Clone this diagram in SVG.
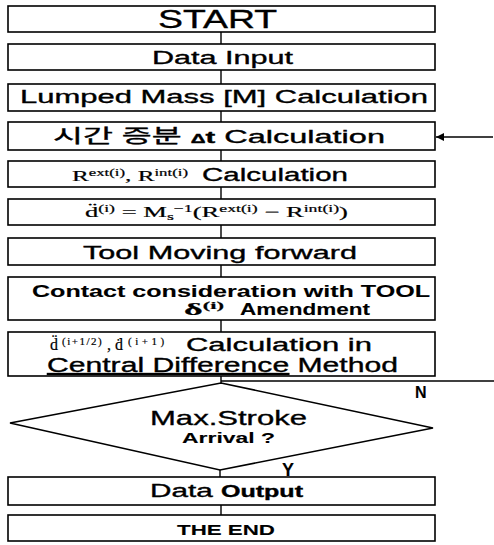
<svg xmlns="http://www.w3.org/2000/svg" width="494" height="545" viewBox="0 0 494 545">
<defs>
<style>
.box{fill:#fff;stroke:#000;stroke-width:1.6}
.ln{fill:none;stroke:#000;stroke-width:1.4}
.t{font-family:"Liberation Sans",Arial,sans-serif;fill:#000;stroke:#000;stroke-width:0.35}
.b{font-weight:bold;stroke-width:0.1}
.s{font-family:"Liberation Serif","Times New Roman",serif;fill:#000;stroke:#000;stroke-width:0.2}
.k{font-family:"Liberation Sans","Noto Sans CJK KR",sans-serif;fill:#000;stroke:#000;stroke-width:0.35}
</style>
<marker id="ah" viewBox="0 0 10 10" refX="10" refY="5" markerWidth="10" markerHeight="8" markerUnits="userSpaceOnUse" orient="auto">
<path d="M0,0 L10,5 L0,10 z" fill="#000"/>
</marker>
</defs>
<rect width="494" height="545" fill="#fff"/>
<g id="connectors">
<line class="ln" x1="221" y1="32" x2="221" y2="44"/>
<line class="ln" x1="221" y1="70" x2="221" y2="84"/>
<line class="ln" x1="221" y1="111" x2="221" y2="122"/>
<line class="ln" x1="221" y1="150" x2="221" y2="161"/>
<line class="ln" x1="221" y1="187" x2="221" y2="199"/>
<line class="ln" x1="221" y1="225" x2="221" y2="238"/>
<line class="ln" x1="221" y1="265" x2="221" y2="277"/>
<line class="ln" x1="221" y1="320" x2="221" y2="332"/>
<line class="ln" x1="221" y1="376" x2="221" y2="383"/>
<line class="ln" x1="221" y1="381" x2="494" y2="381"/>
<line class="ln" x1="220" y1="470" x2="220" y2="477"/>
<line class="ln" x1="221" y1="505" x2="221" y2="515"/>
<line class="ln" x1="493" y1="137" x2="436" y2="137" marker-end="url(#ah)" stroke-width="1"/>
<text class="t b" x="415" y="398" font-size="16">N</text>
<text class="t b" x="282" y="476" font-size="18">Y</text>
</g>
<g id="start"><rect class="box" x="8" y="6" width="427" height="26"/>
<text class="t" x="158" y="28" font-size="25" textLength="119" lengthAdjust="spacingAndGlyphs">START</text></g>
<g id="data-input"><rect class="box" x="8" y="44" width="427" height="26"/>
<text class="t" x="152" y="64" font-size="19" textLength="141" lengthAdjust="spacingAndGlyphs">Data  Input</text></g>
<g id="lumped-mass"><rect class="box" x="8" y="84" width="427" height="27"/>
<text class="t" x="20" y="103" font-size="19" textLength="408" lengthAdjust="spacingAndGlyphs">Lumped Mass [M] Calculation</text></g>
<g id="time-step"><rect class="box" x="8" y="122" width="427" height="28"/>
<text class="k" x="53" y="143" font-size="19" textLength="332" lengthAdjust="spacingAndGlyphs">시간 증분 <tspan font-size="12" font-weight="bold">Δ</tspan><tspan font-weight="bold" font-size="17">t</tspan> Calculation</text></g>
<g id="r-calc"><rect class="box" x="8" y="161" width="427" height="26"/>
<text class="s" x="72" y="181" font-size="15" textLength="116" lengthAdjust="spacingAndGlyphs">R<tspan font-size="10" dy="-5">ext(i)</tspan><tspan dy="5">, R</tspan><tspan font-size="10" dy="-5">int(i)</tspan></text>
<text class="t" x="202" y="181" font-size="19" textLength="146" lengthAdjust="spacingAndGlyphs">Calculation</text></g>
<g id="accel"><rect class="box" x="8" y="199" width="427" height="26"/>
<text class="s" x="85" y="217" font-size="15" textLength="263" lengthAdjust="spacingAndGlyphs">d̈<tspan font-size="10" dy="-5">(i)</tspan><tspan dy="5"> = M</tspan><tspan font-size="10" dy="3">s</tspan><tspan font-size="10" dy="-8">−1</tspan><tspan dy="5">(R</tspan><tspan font-size="10" dy="-5">ext(i)</tspan><tspan dy="5"> − R</tspan><tspan font-size="10" dy="-5">int(i)</tspan><tspan dy="5">)</tspan></text></g>
<g id="tool-moving"><rect class="box" x="8" y="238" width="427" height="27"/>
<text class="t" x="83" y="259" font-size="19" textLength="274" lengthAdjust="spacingAndGlyphs">Tool Moving forward</text></g>
<g id="contact"><rect class="box" x="8" y="277" width="427" height="43"/>
<text class="t b" x="32" y="297" font-size="16" textLength="398" lengthAdjust="spacingAndGlyphs">Contact consideration with TOOL</text>
<text class="s" x="184" y="315" font-size="16" font-weight="bold" textLength="40" lengthAdjust="spacingAndGlyphs">δ<tspan font-size="10" dy="-6">(i)</tspan></text>
<text class="t b" x="240" y="315" font-size="16" textLength="130" lengthAdjust="spacingAndGlyphs">Amendment</text></g>
<g id="central-diff"><rect class="box" x="8" y="332" width="427" height="44"/>
<text class="s" y="350" font-size="16"><tspan x="50">d̈</tspan><tspan x="62" dy="-5" font-size="11" letter-spacing="1.5">(i+1/2)</tspan><tspan x="107" dy="5">, ḋ</tspan><tspan x="128" dy="-5" font-size="11" letter-spacing="3.5">(i+1)</tspan></text>
<text class="t" x="186" y="351" font-size="19" textLength="186" lengthAdjust="spacingAndGlyphs">Calculation  in</text>
<text class="t" x="47" y="372" font-size="20" textLength="351" lengthAdjust="spacingAndGlyphs"><tspan text-decoration="underline">Central Difference</tspan> Method</text></g>
<g id="max-stroke"><polygon class="box" points="221,383 433,428 220,470 10,423"/>
<text class="t" x="150" y="425" font-size="21" textLength="157" lengthAdjust="spacingAndGlyphs">Max.Stroke</text>
<text class="t b" x="182" y="443" font-size="14" textLength="93" lengthAdjust="spacingAndGlyphs">Arrival ?</text></g>
<g id="data-output"><rect class="box" x="8" y="477" width="427" height="28"/>
<text class="t" x="150" y="497" font-size="19" textLength="153" lengthAdjust="spacingAndGlyphs">Data <tspan font-weight="bold" font-size="16">Output</tspan></text></g>
<g id="the-end"><rect class="box" x="8" y="515" width="427" height="26"/>
<text class="t b" x="177" y="535" font-size="15" textLength="98" lengthAdjust="spacingAndGlyphs">THE END</text></g>
</svg>
